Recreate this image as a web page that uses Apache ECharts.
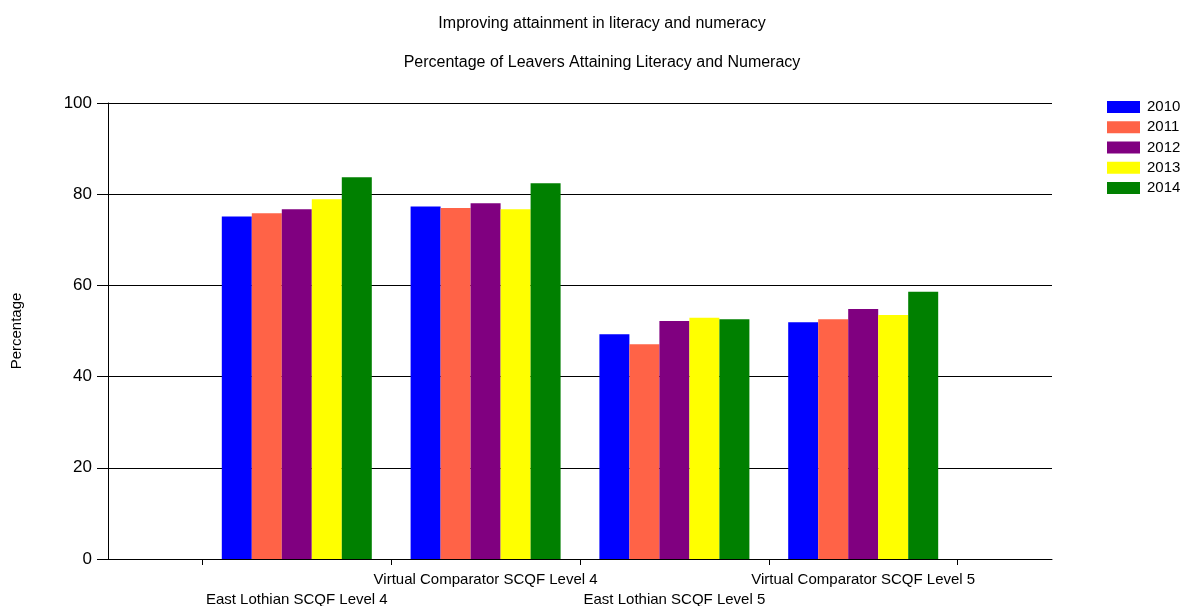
<!DOCTYPE html>
<html>
<head>
<meta charset="utf-8">
<script src="https://cdn.jsdelivr.net/npm/echarts@6/dist/echarts.min.js"></script>
<style>html,body{margin:0;padding:0;background:#fff;}#c{width:1184px;height:606px;}</style>
</head>
<body>
<div id="c"></div>
<script>
const categories = ["East Lothian SCQF Level 4", "Virtual Comparator SCQF Level 4", "East Lothian SCQF Level 5", "Virtual Comparator SCQF Level 5"];
const years = ["2010", "2011", "2012", "2013", "2014"];
const v2010 = [75.1, 77.3, 49.3, 51.9];
const v2011 = [75.8, 77.0, 47.1, 52.6];
const v2012 = [76.7, 78.0, 52.2, 54.8];
const v2013 = [78.9, 76.7, 52.9, 53.5];
const v2014 = [83.7, 82.4, 52.6, 58.6];
const yTicks = [0, 20, 40, 60, 80, 100];
const colors = ["#0000FF", "#FF6347", "#800080", "#FFFF00", "#008000"];

const seriesValues = [v2010, v2011, v2012, v2013, v2014];
const font = "Liberation Sans";
const chart = echarts.init(document.getElementById('c'));
chart.setOption({
  animation: false,
  backgroundColor: '#fff',
  title: [
    { text: "Improving attainment in literacy and numeracy", left: 602, top: 16, textAlign: 'center', padding: 0,
      textStyle: { fontFamily: font, fontSize: 16, fontWeight: 'normal', color: '#000' } },
    { text: "Percentage of Leavers Attaining Literacy and Numeracy", left: 602, top: 55, textAlign: 'center', padding: 0,
      textStyle: { fontFamily: font, fontSize: 16, fontWeight: 'normal', color: '#000' } }
  ],
  legend: {
    orient: 'vertical', left: 1107, top: 99.5, padding: 0, itemWidth: 33, itemHeight: 12, itemGap: 5.25,
    icon: 'rect', data: years,
    textStyle: { fontFamily: font, fontSize: 15, color: '#000', padding: [0, 0, 0, 2] }
  },
  grid: { left: 108, right: 132, top: 103, bottom: 47, outerBoundsMode: 'none', containLabel: false },
  xAxis: {
    type: 'value', min: 0, max: 5, interval: 1,
    axisLine: { show: true, lineStyle: { color: '#000', width: 1 } },
    axisTick: { show: false },
    minorTick: { show: true, splitNumber: 2, length: 6, lineStyle: { color: '#000', width: 1 } },
    splitLine: { show: false },
    minorSplitLine: { show: false },
    axisLabel: {
      fontFamily: font, fontSize: 15, color: '#000', margin: 11, lineHeight: 20,
      formatter: function (v) {
        const idx = Math.round(v) - 1;
        if (idx < 0 || idx >= categories.length) return '';
        return (idx % 2 === 0 ? '\n' : '') + categories[idx];
      }
    }
  },
  yAxis: {
    type: 'value', min: 0, max: 100, interval: 20,
    name: 'Percentage', nameLocation: 'middle', nameGap: 84, nameRotate: 90,
    nameTextStyle: { fontFamily: font, fontSize: 15, color: '#000' },
    axisLine: { show: true, lineStyle: { color: '#000', width: 1 } },
    axisTick: { show: true, length: 11, lineStyle: { color: '#000' } },
    splitLine: { show: true, lineStyle: { color: '#000', width: 1 } },
    axisLabel: { fontFamily: font, fontSize: 17, color: '#000', margin: 16,
      formatter: function (v) { return yTicks.indexOf(v) >= 0 ? String(v) : ''; } }
  },
  series: years.map((y, i) => ({
    name: y, type: 'bar', barWidth: 30, barGap: '0%',
    itemStyle: { color: colors[i] },
    data: seriesValues[i].map((val, k) => [k + 1, val])
  }))
});
</script>
</body>
</html>
